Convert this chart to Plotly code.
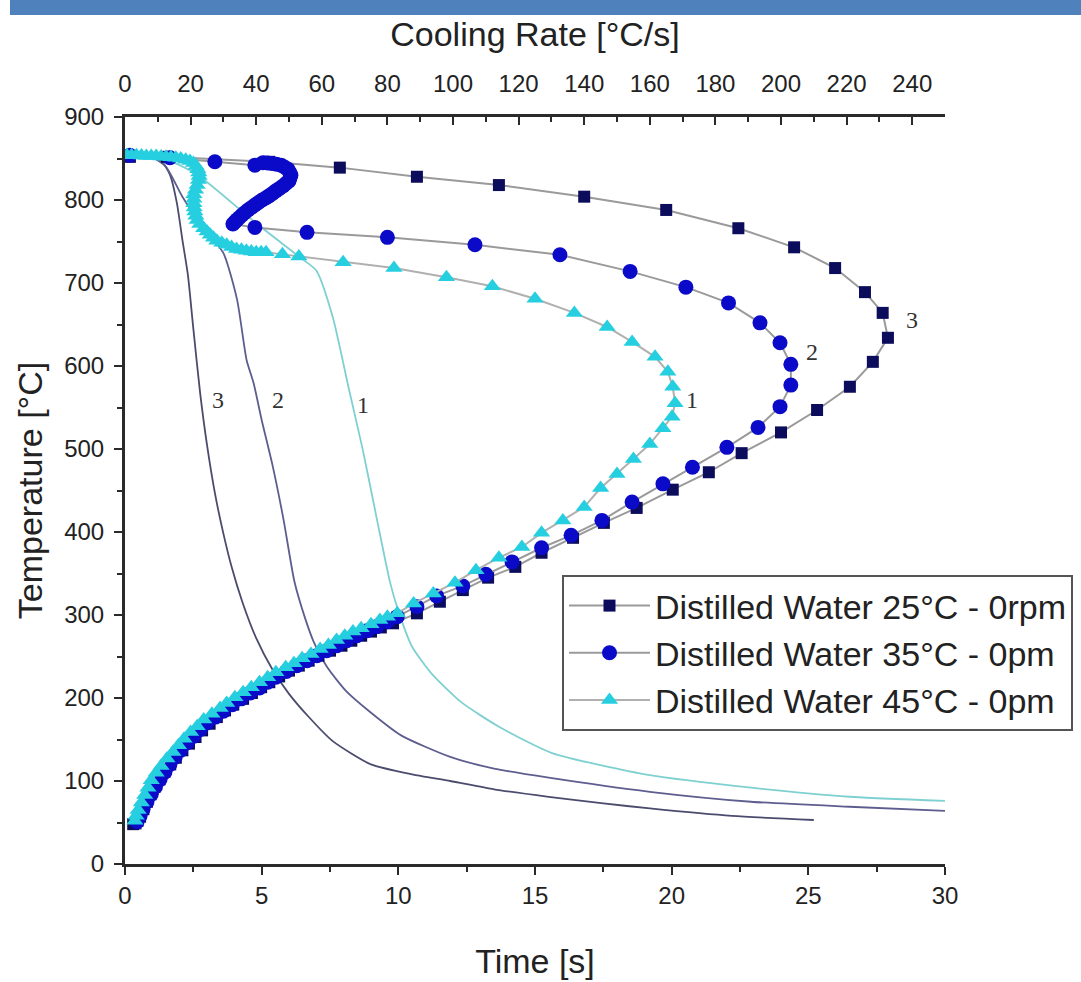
import plotly.graph_objects as go

# ---------------- data ----------------
# Cooling curves: time [s] vs temperature [°C]
c3_time = [0, 0.9, 1.35, 1.65, 1.9, 2.1, 2.3, 2.5, 2.75, 3.0, 3.3, 3.6, 3.9, 4.3, 4.8, 5.4, 6.0, 6.7, 7.6, 9.0, 10.5, 11.9, 13.5, 15.5, 17.5, 19.2, 22.2, 25.2]
c3_temp = [852, 851, 846, 830, 796, 752, 710, 645, 567, 505, 445, 398, 358, 315, 272, 234, 205, 178, 148, 120, 108, 100, 90, 81, 73, 67, 58, 53]

c2_time = [0, 1.0, 1.5, 2.1, 2.8, 3.6, 4.1, 4.45, 4.7, 5.0, 5.4, 5.8, 6.2, 6.6, 6.9, 7.4, 8.1, 8.9, 10.1, 11.9, 13.5, 15.5, 19.2, 22.9, 26.5, 30]
c2_temp = [852, 851, 840, 804, 770, 736, 680, 607, 580, 535, 480, 415, 340, 295, 268, 237, 208, 185, 155, 129, 115, 104, 87, 75, 69, 64]

c1_time = [0, 1.2, 2.0, 2.75, 4.8, 6.4, 7.0, 7.6, 8.2, 8.7, 9.2, 9.7, 10.0, 10.5, 11.2, 12.3, 13.7, 15.6, 19.2, 22.9, 26.5, 30]
c1_temp = [852, 851, 842, 828, 772, 731, 715, 659, 571, 499, 418, 339, 305, 262, 230, 195, 165, 134, 107, 92, 81, 76]

# Cooling rate curves: cooling rate [°C/s] vs temperature [°C]
dw25_rate = [1.5, 12.8, 44, 65.5, 89, 114, 140, 165, 187, 204, 216.5, 225.6, 231, 232.6, 228, 221, 211, 200, 188, 178,
             167, 156, 146, 136.6, 127, 119, 110.7, 103, 96, 89,
             81.7, 78, 75, 72, 69, 66, 62.5, 59, 56, 53, 50, 47, 44, 41.5, 38.7, 36, 33, 30.5, 28, 25.8,
             23.5, 21.5, 19.5, 17.5, 15.5, 13.8, 12, 10.5, 9, 7.8, 6.7, 5.6, 4.6, 3.8, 3.2, 2.5]
dw25_temp = [852, 852, 846, 839, 828, 818, 804, 788, 766, 743, 718, 689, 664, 634, 605, 575, 547, 520, 495, 472,
             451, 429, 411, 393, 375, 358, 345, 330, 316, 302,
             290, 285, 280, 275, 269, 263, 257, 251, 245, 239, 233, 226, 219, 213, 206, 199, 192, 185, 177, 169,
             161, 153, 145, 137, 128, 120, 111, 102, 93, 84, 75, 66, 57, 52, 49, 48]

dw35_rate = [1.5, 13.7, 27.4, 39.6,
             42.1, 43.5, 44.8, 46.2, 47.6, 48.7, 49.7, 50.2, 50.6, 50.3, 50, 49.1, 48.2, 47.1, 46, 45, 43.9, 42.9, 41.8,
             40.7, 39.6, 38.6, 37.5, 36.6, 35.7, 34.9, 34.1, 33.5, 32.9,
             39.6, 55.5, 80, 106.7, 132.6, 154, 171, 184, 193.6, 199.7, 203, 203, 199.7, 193, 183.5, 173, 164, 154.6,
             145.4, 136, 127, 118, 110, 103, 95, 89,
             83, 80, 76.8, 73.8, 70.7, 67.6, 64.6, 61.5, 58.5, 55.5, 52.4, 49.2, 46, 43.5, 41, 38.2, 35.4, 32.7, 30, 27.5,
             25, 23, 21, 19, 17, 15.3, 13.7, 12.2, 10.7, 9.3, 8, 6.7, 5.5, 4.6, 3.7]
dw35_temp = [854, 851, 846, 842,
             845, 844.5, 844, 843, 842, 839.5, 837, 833.5, 830, 826.5, 823, 820, 817, 814, 811, 808, 805, 802.5, 800,
             797, 794, 791, 788, 785, 782, 779, 776, 773.5, 771,
             767, 761, 755, 746, 734, 714, 695, 676, 652, 628, 602, 577, 551, 526, 502, 478, 458, 436,
             414, 396, 381, 364, 349, 335, 323, 310,
             298, 292, 286, 281, 275, 269, 263, 257, 251, 245, 239, 232, 225, 219, 212, 206, 199, 192, 184, 177,
             170, 162, 154, 146, 137, 129, 120, 111, 102, 93, 84, 75, 66, 58, 51]

dw45_rate = [0.6, 2, 3.5, 5, 6.5, 8, 9.5, 11, 12.5, 14, 15.5, 17, 18.5, 19.8, 20.9, 21.7, 22.2, 22.5, 22.6, 22.4,
             22, 21.5, 21, 21, 21, 21.1, 21.3, 21.6, 22, 22.8, 24, 25, 26, 27, 28, 29.5, 31, 32.5, 34, 35.5,
             37, 38.5, 40, 41.5, 43, 48, 53, 66.5, 82, 98, 112, 125, 137, 147, 154.6, 161.6, 165.5, 167, 167.7, 166.8,
             164, 160, 155, 150, 145, 140, 133.5, 127, 121, 114, 107, 100.6, 94, 88,
             83, 80, 77.7, 75, 72, 69.5, 67, 64.5, 62, 59.5, 56.7, 54, 51.5, 49, 46, 43.5, 41, 38.5, 36, 33.5,
             31, 29, 26.5, 24, 22, 20, 18, 16.3, 14.6, 12.8, 11, 9.5, 8, 7, 6, 5, 4, 3.4, 3]
dw45_temp = [854, 854, 854, 853.5, 853, 853, 853, 852.5, 852, 851.5, 851, 850, 848.5, 847, 844.5, 841, 837, 833, 829, 824,
             818, 812.5, 807, 801.5, 796, 791, 786, 781, 776, 771, 766, 762, 758, 754.5, 751, 748.5, 746, 743.5, 741, 740,
             739, 738, 737, 737, 737, 734.5, 732, 725, 718, 707, 696, 681, 664, 647, 629, 611, 593, 575, 555, 539,
             525, 506, 488, 470, 453, 430, 414, 399, 382, 369, 354, 339, 326, 314,
             302, 298, 294, 289, 284, 280, 275, 270, 264, 259, 253, 248, 242, 237, 231, 225, 219, 213, 207, 201,
             194, 188, 181, 174, 166, 159, 151, 143, 135, 127, 118, 110, 101, 92, 83, 74, 65, 58, 52]

series_names = ["Distilled Water 25°C - 0rpm", "Distilled Water 35°C - 0pm", "Distilled Water 45°C - 0pm"]
curve_labels = ["1", "2", "3"]
time_ticks = [0, 5, 10, 15, 20, 25, 30]
rate_ticks = [0, 20, 40, 60, 80, 100, 120, 140, 160, 180, 200, 220, 240]
temp_ticks = [0, 100, 200, 300, 400, 500, 600, 700, 800, 900]

# ---------------- figure ----------------
FONT = "Liberation Sans, Arial, sans-serif"
AX = "#2a2a2a"

fig = go.Figure()

# time curves (bottom axis)
curve_style = dict(shape="spline", smoothing=0.6, width=1.8)
fig.add_trace(go.Scatter(x=c3_time, y=c3_temp, mode="lines", line=dict(color="#4b4b6e", **curve_style),
                         showlegend=False, xaxis="x", yaxis="y", hoverinfo="skip"))
fig.add_trace(go.Scatter(x=c2_time, y=c2_temp, mode="lines", line=dict(color="#5d5d8f", **curve_style),
                         showlegend=False, xaxis="x", yaxis="y", hoverinfo="skip"))
fig.add_trace(go.Scatter(x=c1_time, y=c1_temp, mode="lines", line=dict(color="#7fd0d0", **curve_style),
                         showlegend=False, xaxis="x", yaxis="y", hoverinfo="skip"))

# cooling-rate curves (top axis)
fig.add_trace(go.Scatter(x=dw25_rate, y=dw25_temp, mode="lines+markers", name=series_names[0],
                         line=dict(color="#9a9a9a", width=2),
                         marker=dict(symbol="square", size=12, color="#0c0c5c"),
                         xaxis="x2", yaxis="y"))
fig.add_trace(go.Scatter(x=dw35_rate, y=dw35_temp, mode="lines+markers", name=series_names[1],
                         line=dict(color="#9a9a9a", width=2),
                         marker=dict(symbol="circle", size=15, color="#0a0ac8"),
                         xaxis="x2", yaxis="y"))
fig.add_trace(go.Scatter(x=dw45_rate, y=dw45_temp, mode="lines+markers", name=series_names[2],
                         line=dict(color="#b0b0b0", width=2),
                         marker=dict(symbol="triangle-up", size=15, color="#26cfe0"),
                         xaxis="x2", yaxis="y"))

ann_font = dict(family="Liberation Serif, Times New Roman, serif", size=24, color="#333333")
annotations = [
    dict(x=3.4, y=559, xref="x", yref="y", text=curve_labels[2], showarrow=False, font=ann_font),
    dict(x=5.6, y=559, xref="x", yref="y", text=curve_labels[1], showarrow=False, font=ann_font),
    dict(x=8.7, y=553, xref="x", yref="y", text=curve_labels[0], showarrow=False, font=ann_font),
    dict(x=240, y=655, xref="x2", yref="y", text=curve_labels[2], showarrow=False, font=ann_font),
    dict(x=209.5, y=617, xref="x2", yref="y", text=curve_labels[1], showarrow=False, font=ann_font),
    dict(x=173, y=559, xref="x2", yref="y", text=curve_labels[0], showarrow=False, font=ann_font),
]

W, H = 1081, 982
L, R, T, B = 125, 945, 117, 864
pw, ph = R - L, B - T

shapes = [
    dict(type="rect", xref="paper", yref="paper",
         x0=(10 - L) / pw, x1=(W - L) / pw,
         y0=(B - 15) / ph, y1=(B - 0) / ph,
         fillcolor="#4f81bd", line=dict(width=0), layer="above"),
]

tickfont = dict(family=FONT, size=24, color="#222222")
titlefont = dict(family=FONT, size=34, color="#222222")

fig.update_layout(
    width=W, height=H,
    margin=dict(l=L, r=W - R, t=T, b=H - B, autoexpand=False),
    paper_bgcolor="white", plot_bgcolor="white",
    font=dict(family=FONT, color="#222222"),
    xaxis=dict(range=[0, 30], tickvals=time_ticks, ticks="outside", ticklen=8, tickwidth=2, tickcolor=AX,
               minor=dict(dtick=2.5, ticks="outside", ticklen=5, tickwidth=2, tickcolor=AX),
               showline=True, linecolor=AX, linewidth=3, showgrid=False, zeroline=False, automargin=False,
               tickfont=tickfont, title=dict(text="Time [s]", font=titlefont, standoff=42)),
    xaxis2=dict(range=[0, 250], tickvals=rate_ticks, overlaying="x", side="top", anchor="y",
                ticks="inside", ticklen=8, tickwidth=2, tickcolor=AX,
                minor=dict(dtick=10, ticks="inside", ticklen=5, tickwidth=2, tickcolor=AX),
                showline=True, linecolor=AX, linewidth=3, showgrid=False, zeroline=False, automargin=False,
                tickfont=tickfont, ticklabelstandoff=12,
                title=dict(text="Cooling Rate [°C/s]", font=titlefont, standoff=14)),
    yaxis=dict(range=[0, 900], tickvals=temp_ticks, ticks="outside", ticklen=8, tickwidth=2, tickcolor=AX,
               minor=dict(dtick=50, ticks="outside", ticklen=5, tickwidth=2, tickcolor=AX),
               showline=True, linecolor=AX, linewidth=3, showgrid=False, zeroline=False, automargin=False,
               tickfont=tickfont, ticklabelstandoff=5,
               title=dict(text="Temperature [°C]", font=titlefont, standoff=12)),
    legend=dict(x=(562 - L) / pw, y=(B - 575) / ph, xanchor="left", yanchor="top",
                bgcolor="white", bordercolor="#555555", borderwidth=2,
                font=dict(family=FONT, size=34, color="#222222"),
                itemwidth=81),
    annotations=annotations,
    shapes=shapes,
)

fig.write_html("out.html", config={"displayModeBar": False},
               post_script="document.body.style.margin='0';")
